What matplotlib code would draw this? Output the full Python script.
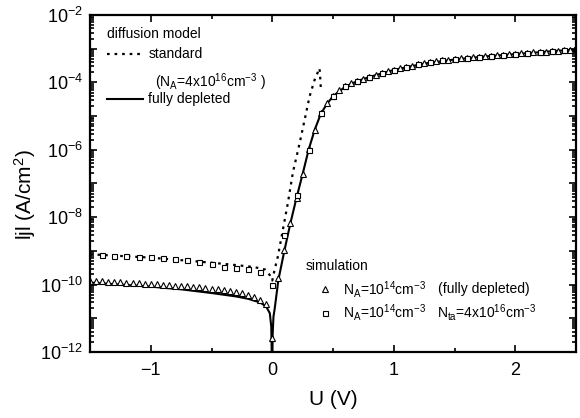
import numpy as np
import matplotlib
matplotlib.use('Agg')
import matplotlib.pyplot as plt
from matplotlib.ticker import FixedLocator, FuncFormatter, NullFormatter

plt.rcParams['font.family'] = 'Liberation Sans'
plt.rcParams['mathtext.fontset'] = 'custom'
plt.rcParams['mathtext.rm'] = 'Liberation Sans'
plt.rcParams['mathtext.it'] = 'Liberation Sans:italic'

# values given as log10(|j|)
# diffusion model, standard (N_A = 4e16)
std_u = [-1.5, -1.0, -0.5, -0.3, -0.15, -0.06, -0.02, 0.0, 0.02, 0.046, 0.087,
         0.128, 0.17, 0.225, 0.266, 0.307, 0.348, 0.389, 0.395, 0.40]
std_j = [-9.10, -9.20, -9.35, -9.42, -9.48, -9.55, -9.72, -9.88, -9.55, -9.17, -8.38,
         -7.59, -6.67, -5.81, -5.12, -4.42, -3.93, -3.58, -3.88, -4.18]

# diffusion model, fully depleted
fd_u = [-1.5, -1.25, -1.0, -0.75, -0.5, -0.3, -0.2, -0.1, -0.05, -0.02, -0.008, 0.0,
        0.003, 0.01, 0.02, 0.05, 0.1, 0.15, 0.2, 0.25, 0.3, 0.35, 0.4, 0.45, 0.5,
        0.6, 0.7, 0.8, 1.0, 1.25, 1.5, 1.75, 2.0, 2.25, 2.5]
fd_j = [-9.94, -10.0, -10.06, -10.14, -10.25, -10.35, -10.42, -10.53, -10.65, -10.85, -11.25, -13.0,
        -11.5, -10.95, -10.72, -9.87, -8.99, -8.17, -7.42, -6.72, -5.99, -5.40, -4.93, -4.64, -4.41,
        -4.13, -3.96, -3.84, -3.63, -3.44, -3.32, -3.23, -3.16, -3.09, -3.02]

# simulation, N_A = 1e14 (fully depleted)
tri_u = [-1.5, -1.45, -1.4, -1.35, -1.3, -1.25, -1.2, -1.15, -1.1, -1.05, -1.0, -0.95,
         -0.9, -0.85, -0.8, -0.75, -0.7, -0.65, -0.6, -0.55, -0.5, -0.45, -0.4, -0.35,
         -0.3, -0.25, -0.2, -0.15, -0.1, -0.05, 0.0,
         0.05, 0.1, 0.15, 0.2, 0.25, 0.3, 0.35, 0.4, 0.45, 0.5, 0.55, 0.6, 0.65, 0.7,
         0.75, 0.8, 0.85, 0.9, 0.95, 1.0, 1.05, 1.1, 1.15, 1.2, 1.25, 1.3, 1.35, 1.4,
         1.45, 1.5, 1.55, 1.6, 1.65, 1.7, 1.75, 1.8, 1.85, 1.9, 1.95, 2.0, 2.05, 2.1,
         2.15, 2.2, 2.25, 2.3, 2.35, 2.4, 2.45, 2.5]
tri_j = [-9.88, -9.89, -9.90, -9.91, -9.92, -9.93, -9.94, -9.95, -9.96, -9.97, -9.98, -9.99,
         -10.00, -10.01, -10.03, -10.04, -10.05, -10.07, -10.08, -10.10, -10.12, -10.14, -10.16, -10.19,
         -10.22, -10.26, -10.31, -10.37, -10.45, -10.58, -11.58,
         -9.81, -8.97, -8.16, -7.42, -6.72, -5.99, -5.40, -4.92, -4.62, -4.39, -4.24, -4.12, -4.03, -3.95,
         -3.89, -3.83, -3.77, -3.72, -3.67, -3.62, -3.58, -3.54, -3.50, -3.46, -3.43, -3.40, -3.37, -3.35,
         -3.33, -3.31, -3.29, -3.27, -3.26, -3.24, -3.22, -3.21, -3.19, -3.18, -3.17, -3.15, -3.14, -3.13,
         -3.11, -3.10, -3.09, -3.08, -3.06, -3.05, -3.04, -3.02]

# simulation, N_A = 1e14, N_ta = 4e16
sq_u = [-1.4, -1.3, -1.2, -1.1, -1.0, -0.9, -0.8, -0.7, -0.6, -0.5, -0.4, -0.3, -0.2, -0.1,
        0.0, 0.1, 0.2, 0.3, 0.4, 0.5, 0.6, 0.7, 0.8, 0.9, 1.0, 1.1, 1.2, 1.3, 1.4, 1.5,
        1.6, 1.7, 1.8, 1.9, 2.0, 2.1, 2.2, 2.3, 2.4, 2.5]
sq_j = [-9.12, -9.14, -9.16, -9.18, -9.19, -9.21, -9.24, -9.28, -9.33, -9.40, -9.47, -9.50, -9.54, -9.63,
        -10.0, -8.53, -7.34, -6.0, -4.92, -4.39, -4.12, -3.95, -3.83, -3.72, -3.62, -3.54, -3.46, -3.40, -3.35, -3.31,
        -3.27, -3.24, -3.21, -3.18, -3.15, -3.13, -3.10, -3.08, -3.05, -3.02]

W, H = 580, 418
fig = plt.figure(figsize=(W / 100, H / 100), dpi=100)
ax = fig.add_axes([90 / W, 1 - 352 / H, (576 - 90) / W, (352 - 15) / H])

dots = (0, (1.2, 2.2))
ax.plot(std_u, 10.0 ** np.array(std_j), color='black', lw=1.6, linestyle=dots)
ax.plot(fd_u, 10.0 ** np.array(fd_j), color='black', lw=1.5)
ax.plot(tri_u, 10.0 ** np.array(tri_j), linestyle='none', marker='^', ms=4,
        mfc='white', mec='black', mew=0.8)
ax.plot(sq_u, 10.0 ** np.array(sq_j), linestyle='none', marker='s', ms=3.6,
        mfc='white', mec='black', mew=0.8)

ax.set_yscale('log')
ax.set_xlim(-1.5, 2.5)
ax.set_ylim(1e-12, 1e-2)

ax.xaxis.set_major_locator(FixedLocator([-1, 0, 1, 2]))
ax.xaxis.set_minor_locator(FixedLocator([-1.5, -0.5, 0.5, 1.5, 2.5]))
ax.yaxis.set_major_locator(FixedLocator(10.0 ** np.arange(-12, -1)))
ax.yaxis.set_minor_locator(FixedLocator([m * 10.0 ** e for e in range(-12, -2) for m in range(2, 10)]))
ax.yaxis.set_minor_formatter(NullFormatter())


def ylab(v, pos):
    e = int(round(np.log10(v)))
    return r'10$^{\mathregular{%d}}$' % e if e % 2 == 0 else ''


ax.yaxis.set_major_formatter(FuncFormatter(ylab))
ax.tick_params(which='both', direction='in', top=True, right=True, width=1.2, labelsize=13)
ax.tick_params(which='major', length=5)
ax.tick_params(which='minor', length=3)
ax.tick_params(axis='x', which='major', pad=7)
ax.tick_params(axis='y', which='major', pad=5)
for s in ax.spines.values():
    s.set_linewidth(1.6)

ax.set_xlabel('U (V)', fontsize=15, va='center')
ax.xaxis.set_label_coords(0.5, -0.142)
ax.set_ylabel('ljl (A/cm$^{\\mathregular{2}}$)', fontsize=15, va='center')
ax.yaxis.set_label_coords(-0.134, 0.466)


def fx(px):
    return px / W


def fy(py):
    return 1 - py / H


# diffusion model legend (top left)
fig.text(fx(107), fy(34), 'diffusion model', fontsize=10, va='center')
ax.plot([fx(107), fx(140)], [fy(54), fy(54)], transform=fig.transFigure, color='black',
        lw=1.6, linestyle=dots, clip_on=False)
fig.text(fx(149), fy(54), 'standard', fontsize=10, va='center')
fig.text(fx(155), fy(82), r'(N$_{\mathregular{A}}$=4x10$^{\mathregular{16}}$cm$^{\mathregular{-3}}$ )',
         fontsize=10, va='center')
ax.plot([fx(107), fx(143)], [fy(99), fy(99)], transform=fig.transFigure, color='black',
        lw=1.5, clip_on=False)
fig.text(fx(148), fy(99), 'fully depleted', fontsize=10, va='center')

# simulation legend (bottom right)
fig.text(fx(306), fy(266), 'simulation', fontsize=10, va='center')
ax.plot([fx(325)], [fy(289)], transform=fig.transFigure, marker='^', ms=4,
        mfc='white', mec='black', mew=0.8, clip_on=False)
fig.text(fx(343), fy(289), r'N$_{\mathregular{A}}$=10$^{\mathregular{14}}$cm$^{\mathregular{-3}}$',
         fontsize=10, va='center')
fig.text(fx(438), fy(289), '(fully depleted)', fontsize=10, va='center')
ax.plot([fx(325)], [fy(313)], transform=fig.transFigure, marker='s', ms=3.6,
        mfc='white', mec='black', mew=0.8, clip_on=False)
fig.text(fx(343), fy(313), r'N$_{\mathregular{A}}$=10$^{\mathregular{14}}$cm$^{\mathregular{-3}}$',
         fontsize=10, va='center')
fig.text(fx(437), fy(313), r'N$_{\mathregular{ta}}$=4x10$^{\mathregular{16}}$cm$^{\mathregular{-3}}$',
         fontsize=10, va='center')

fig.savefig('out.png', dpi=100)
